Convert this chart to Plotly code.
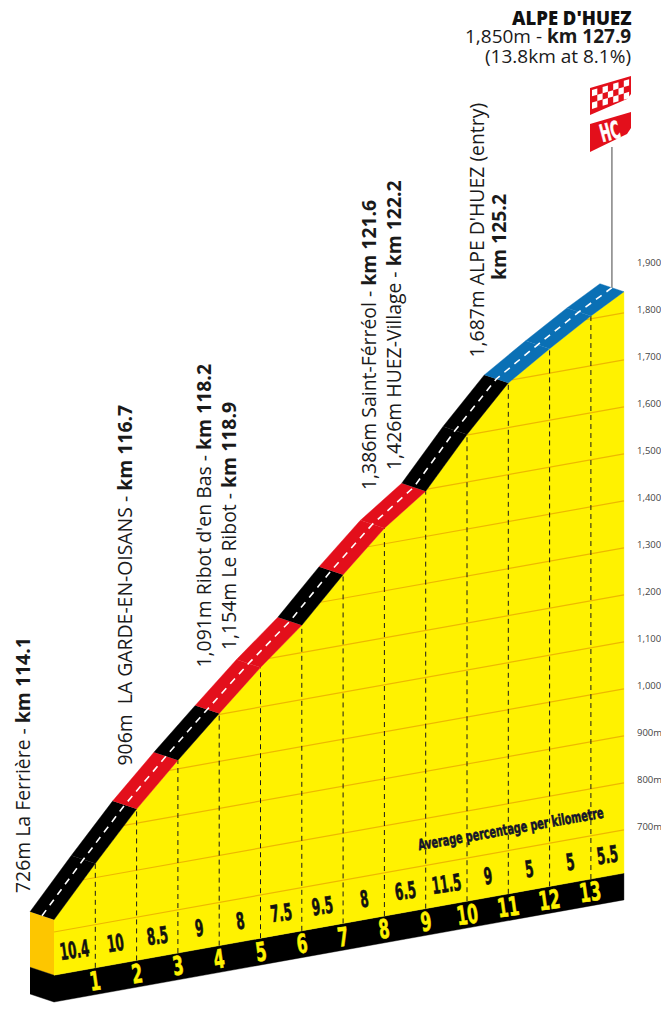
import numpy as np
import plotly.graph_objects as go

W, H = 661, 1024

# profile
km = [0, 1, 2, 3, 4, 5, 6, 7, 8, 9, 10, 11, 12, 13, 13.8]
altitude = [726, 830, 930, 1018, 1102, 1184, 1258, 1350, 1433, 1496, 1601, 1695, 1752, 1806, 1845]
gradient = [10.4, 10, 8.5, 9, 8, 7.5, 9.5, 8, 6.5, 11.5, 9, 5, 5, 5.5]
km_marks = [1, 2, 3, 4, 5, 6, 7, 8, 9, 10, 11, 12, 13]
grid_levels = [700, 800, 900, 1000, 1100, 1200, 1300, 1400, 1500, 1600, 1700, 1800]
scale_levels = [700, 800, 900, 1000, 1100, 1200, 1300, 1400, 1500, 1600, 1700, 1800, 1900]
scale_labels = ["700m", "800m", "900m", "1,000", "1,100", "1,200", "1,300",
                "1,400", "1,500", "1,600", "1,700", "1,800", "1,900"]
segment_class = ["hard", "hard", "mid", "hard", "mid", "mid", "hard", "mid", "mid",
                 "hard", "hard", "easy", "easy", "easy"]

class_colors = {"hard": "#000000", "mid": "#e30f1b", "easy": "#0a70b5"}
YELLOW = "#fff200"
ORANGE = "#fdc600"
GRID = "#eeb800"
CONDENSED = "DejaVu Sans Condensed"
SANS = "Open Sans"

# pseudo 3D: the ground rises to the right, the road has depth up-left
PX_PER_KM = 41.3
PX_PER_M = 0.47
SKEW = 7.4 / PX_PER_M
DEPTH_KM = -24 / PX_PER_KM
DEPTH_UP = 8 / PX_PER_M
BASE = 608
STRIP = 551


def proj(k, alt):
    return alt + SKEW * k


x_range = [-54 / PX_PER_KM, (W - 54) / PX_PER_KM]
y_range = [700 - (H - 932) / PX_PER_M, 700 + 932 / PX_PER_M]

fig = go.Figure()


def poly(xs, ys, color):
    fig.add_trace(go.Scatter(x=xs, y=ys, mode="lines", fill="toself", fillcolor=color,
                             line=dict(color=color, width=0.4), hoverinfo="skip"))


k0, kn = km[0], km[-1]
a0 = altitude[0]
front = [proj(k, a) for k, a in zip(km, altitude)]

# left face and the black strip
poly([k0 + DEPTH_KM, k0, k0, k0 + DEPTH_KM],
     [proj(k0, a0) + DEPTH_UP, proj(k0, a0), proj(k0, BASE), proj(k0, BASE) + DEPTH_UP], ORANGE)
poly([k0 + DEPTH_KM, k0, k0, k0 + DEPTH_KM],
     [proj(k0, BASE) + DEPTH_UP, proj(k0, BASE), proj(k0, STRIP), proj(k0, STRIP) + DEPTH_UP], "#000000")
poly([k0, kn, kn, k0], [proj(k0, BASE), proj(kn, BASE), proj(kn, STRIP), proj(k0, STRIP)], "#000000")

# yellow body
poly(km + [kn, k0], front + [proj(kn, BASE), proj(k0, BASE)], YELLOW)

# altitude grid, clipped at the profile
for level in grid_levels:
    start = float(np.interp(level, altitude, km)) if level > a0 else k0
    fig.add_trace(go.Scatter(x=[start, kn], y=[proj(start, level), proj(kn, level)], mode="lines",
                             line=dict(color=GRID, width=1.2), hoverinfo="skip"))

# km dashes
for m in km_marks:
    fig.add_trace(go.Scatter(x=[m, m], y=[proj(m, BASE), proj(m, altitude[km.index(m)])], mode="lines",
                             line=dict(color="#1a1a1a", width=1, dash="5px,4px"), hoverinfo="skip"))

# road band, one piece per km
for i, cls in enumerate(segment_class):
    ka, kb = km[i], km[i + 1]
    ya, yb = front[i], front[i + 1]
    poly([ka, kb, kb + DEPTH_KM, ka + DEPTH_KM], [ya, yb, yb + DEPTH_UP, ya + DEPTH_UP], class_colors[cls])

# dashed centre line
fig.add_trace(go.Scatter(x=[k + DEPTH_KM / 2 for k in km],
                         y=[f + DEPTH_UP / 2 for f in front], mode="lines",
                         line=dict(color="white", width=1.6, dash="7px,6px"), hoverinfo="skip"))

# pole up to the flags
pole_x = kn + DEPTH_KM / 2
pole_top = 700 + (932 - 147) / PX_PER_M
fig.add_trace(go.Scatter(x=[pole_x, pole_x], y=[front[-1] + DEPTH_UP / 2, pole_top],
                         mode="lines", line=dict(color="#444444", width=1), hoverinfo="skip"))

annotations = []


def note(text, x, y, **kw):
    base = dict(text=text, x=x, y=y, xref="x", yref="y", showarrow=False, borderpad=0, borderwidth=0,
                xanchor="center", yanchor="middle")
    base.update(kw)
    annotations.append(base)


def px_note(text, px, py, **kw):
    note(text, px / W, 1 - py / H, xref="paper", yref="paper", **kw)


for i, g in enumerate(gradient):
    mid = (km[i] + km[i + 1]) / 2
    note(str(g), mid, proj(mid, BASE + 45), textangle=-8,
         font=dict(family=CONDENSED, size=23, color="#111111", weight=700))

for m in km_marks:
    note(str(m), m, proj(m, (BASE + STRIP) / 2), textangle=-8,
         font=dict(family=CONDENSED, size=26, color=YELLOW, weight=700))

for level, label in zip(scale_levels, scale_labels):
    note(label, 14.12, proj(14.12, level + 3), xanchor="left",
         font=dict(family=SANS, size=9.5, color="#444444"))

px_note("Average percentage per kilometre", 511, 829, textangle=-10,
        font=dict(family=CONDENSED, size=15, color="#14142b", weight=700))

# rotated place labels: text, centre x, bottom y
place_labels = [
    ("726m La Ferrière - <b>km 114.1</b>", 22, 893),
    ("906m  LA GARDE-EN-OISANS - <b>km 116.7</b>", 124, 766),
    ("1,091m Ribot d'en Bas - <b>km 118.2</b>", 203, 668),
    ("1,154m Le Ribot - <b>km 118.9</b>", 228, 650),
    ("1,386m Saint-Férréol - <b>km 121.6</b>", 368, 490),
    ("1,426m HUEZ-Village - <b>km 122.2</b>", 393, 470),
    ("1,687m ALPE D'HUEZ (entry)", 476, 358),
    ("<b>km 125.2</b>", 498, 280),
]
for text, px, py in place_labels:
    px_note(text, px, py, textangle=-90, yanchor="bottom",
            font=dict(family=SANS, size=19.4, color="#1a1a1a"))

# finish title
px_note("ALPE D'HUEZ", 631, 17, xanchor="right", font=dict(family=SANS, size=18.5, color="#111111", weight=800))
px_note("1,850m - <b>km 127.9</b>", 631, 36, xanchor="right", font=dict(family=SANS, size=19, color="#1a1a1a"))
px_note("(13.8km at 8.1%)", 631, 56, xanchor="right", font=dict(family=SANS, size=19, color="#1a1a1a"))
px_note("HC", 610, 132, textangle=-15,
        font=dict(family=CONDENSED, size=24, color="white", weight=700))


def path(points):
    return "M " + " L ".join(f"{px / W:.5f},{1 - py / H:.5f}" for px, py in points) + " Z"


def flag(points):
    return dict(type="path", xref="paper", yref="paper", path=path(points),
                fillcolor="#e30f1b", line=dict(width=0), layer="above")


shapes = [
    flag([(590, 88), (631, 76), (631, 94), (627, 99), (590, 115)]),
    flag([(590, 124), (631, 112), (631, 128), (627, 134), (590, 152)]),
]

# checker squares on the first flag
cols, rows = 7, 3
for c in range(cols):
    for r in range(rows):
        if (c + r) % 2:
            continue
        x0 = 592 + c * 5.3
        x1 = x0 + 5.3
        top = 90 - (c * 5.3) * 0.29 + r * 6.3
        skew = 5.3 * 0.29
        shapes.append(dict(type="path", xref="paper", yref="paper",
                           path=path([(x0, top), (x1, top - skew), (x1, top - skew + 6.3), (x0, top + 6.3)]),
                           fillcolor="white", line=dict(width=0), layer="above"))

fig.update_layout(
    width=W,
    height=H,
    margin=dict(l=0, r=0, t=0, b=0),
    paper_bgcolor="white",
    plot_bgcolor="white",
    showlegend=False,
    hovermode=False,
    xaxis=dict(range=x_range, visible=False, fixedrange=True),
    yaxis=dict(range=y_range, visible=False, fixedrange=True),
    annotations=annotations,
    shapes=shapes,
)

# drop the page margin, and squeeze the condensed labels: there is no narrow font installed
post = """
document.body.style.margin = '0';
document.querySelectorAll('text.annotation-text').forEach(function (t) {
  if (t.style.fontFamily.indexOf('Condensed') < 0) return;
  var size = parseFloat(t.style.fontSize);
  var sx = size >= 25 ? 0.66 : (size >= 20 ? 0.58 : 0.72);
  var cx = parseFloat(t.getAttribute('x')) || 0;
  t.setAttribute('transform', 'translate(' + cx + ',0) scale(' + sx + ',1) translate(' + (-cx) + ',0)');
  t.style.stroke = t.style.fill;
  t.style.strokeWidth = '0.6px';
});
"""
fig.write_html("out.html", post_script=post, config={"displayModeBar": False})
